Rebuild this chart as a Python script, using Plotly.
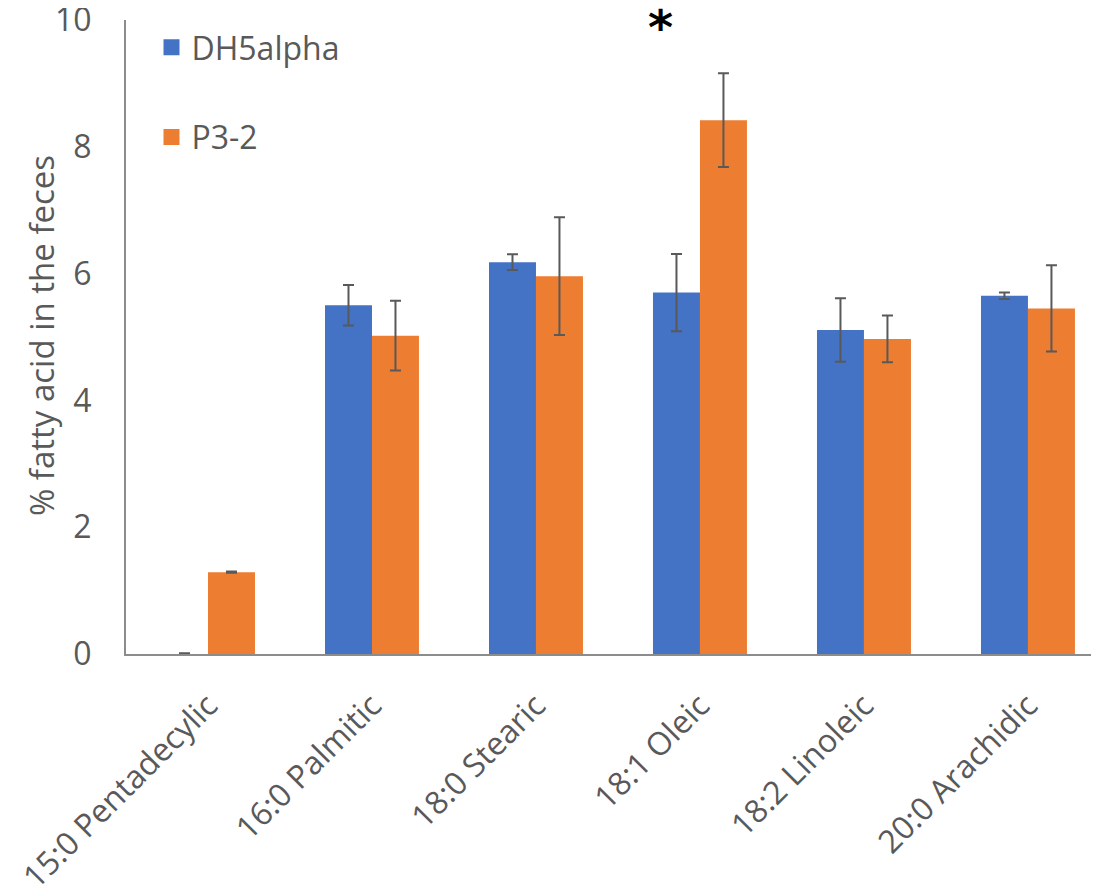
import plotly.graph_objects as go

categories = ["15:0 Pentadecylic", "16:0 Palmitic", "18:0 Stearic",
              "18:1 Oleic", "18:2 Linoleic", "20:0 Arachidic"]
dh5alpha = [0.0, 5.50, 6.18, 5.70, 5.11, 5.65]
dh5alpha_err = [0.01, 0.32, 0.125, 0.61, 0.50, 0.05]
p32 = [1.29, 5.02, 5.96, 8.42, 4.97, 5.45]
p32_err = [0.01, 0.55, 0.93, 0.74, 0.37, 0.68]
y_ticks = [0, 2, 4, 6, 8, 10]

BLUE = "#4472C4"
ORANGE = "#ED7D31"
GRAY = "#595959"
FONT = "Open Sans"

fig = go.Figure()
fig.add_trace(go.Bar(x=categories, y=dh5alpha, name="DH5alpha",
                     marker=dict(color=BLUE, line=dict(width=0)),
                     error_y=dict(type="data", array=dh5alpha_err, color=GRAY,
                                  thickness=2, width=5.5),
                     showlegend=False))
fig.add_trace(go.Bar(x=categories, y=p32, name="P3-2",
                     marker=dict(color=ORANGE, line=dict(width=0)),
                     error_y=dict(type="data", array=p32_err, color=GRAY,
                                  thickness=2, width=5.5),
                     showlegend=False))
# legend entries
fig.add_trace(go.Scatter(x=[None], y=[None], mode="markers", name="DH5alpha",
                         marker=dict(symbol="square", size=16, color=BLUE),
                         legendgroup="a"))
fig.add_trace(go.Scatter(x=[None], y=[None], mode="markers", name="P3-2",
                         marker=dict(symbol="square", size=16, color=ORANGE),
                         legendgroup="b"))

fig.add_annotation(x="18:1 Oleic", y=10, xref="x", yref="y", text="<b>*</b>",
                   showarrow=False, xshift=-39, yshift=-7,
                   font=dict(family="DejaVu Sans", size=48, color="black"))

# y-axis title
fig.add_annotation(x=-0.0856, y=0.5016, xref="paper", yref="paper",
                   text="% fatty acid in the feces", textangle=-90,
                   showarrow=False, xanchor="center", yanchor="middle",
                   font=dict(family=FONT, size=33, color=GRAY))

fig.update_layout(
    width=1099, height=891,
    margin=dict(l=118, r=0, t=12, b=245, autoexpand=False),
    paper_bgcolor="white", plot_bgcolor="white",
    barmode="group", bargap=0.427, bargroupgap=0,
    font=dict(family=FONT, color=GRAY),
    legend=dict(x=0.026, y=1.0, xanchor="left", yanchor="top",
                font=dict(size=32, color=GRAY, family=FONT),
                tracegroupgap=45, itemsizing="trace",
                bgcolor="rgba(0,0,0,0)"),
    xaxis=dict(range=[-0.5, 5.482], showline=True, linecolor="#8C8C8C",
               linewidth=2, ticks="", tickangle=-45,
               tickfont=dict(size=32, color=GRAY), ticklabelstandoff=18,
               showgrid=False, zeroline=False),
    yaxis=dict(range=[0, 10], tickvals=y_ticks, showline=True,
               linecolor="#8C8C8C", linewidth=2, ticks="",
               tickfont=dict(size=32, color=GRAY), ticklabelstandoff=26,
               ticklabeloverflow="allow",
               showgrid=False, zeroline=False),
)

fig.write_html("out.html")
